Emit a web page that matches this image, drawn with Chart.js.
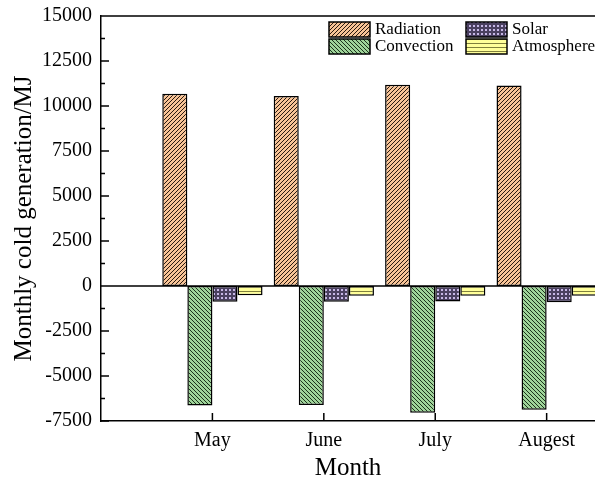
<!DOCTYPE html>
<html>
<head>
<meta charset="utf-8">
<script src="https://cdn.jsdelivr.net/npm/chart.js@4/dist/chart.umd.min.js"></script>
<style>
  html, body { margin: 0; padding: 0; background: #fff; }
  #wrap { width: 595px; height: 479px; }
</style>
</head>
<body>
<div id="wrap"><canvas id="cold" width="595" height="479"></canvas></div>
<script>
// monthly cold generation per component, MJ
const months = ['May', 'June', 'July', 'Augest'];
const radiation = [10680, 10560, 11180, 11140];
const convection = [-6640, -6610, -7040, -6880];
const solar = [-880, -880, -860, -900];
const atmosphere = [-520, -540, -540, -540];
const yTicks = [-7500, -5000, -2500, 0, 2500, 5000, 7500, 10000, 12500, 15000];

const SERIF = "'Liberation Serif', 'Times New Roman', serif";

// hatch tiles
function tile(w, h, draw) {
  const c = document.createElement('canvas');
  c.width = w; c.height = h;
  draw(c.getContext('2d'), w, h);
  return c.getContext('2d').createPattern(c, 'repeat');
}
const hatchRadiation = tile(4, 4, (g, s) => {
  g.fillStyle = '#f8c497'; g.fillRect(0, 0, s, s);
  g.strokeStyle = '#2a1a10'; g.lineWidth = 1;
  g.beginPath();
  g.moveTo(0, s); g.lineTo(s, 0);
  g.moveTo(-1, 1); g.lineTo(1, -1);
  g.moveTo(s - 1, s + 1); g.lineTo(s + 1, s - 1);
  g.stroke();
});
const hatchConvection = tile(4, 4, (g, s) => {
  g.fillStyle = '#9fd49a'; g.fillRect(0, 0, s, s);
  g.strokeStyle = '#1c331c'; g.lineWidth = 1;
  g.beginPath();
  g.moveTo(0, 0); g.lineTo(s, s);
  g.moveTo(-1, s - 1); g.lineTo(1, s + 1);
  g.moveTo(s - 1, -1); g.lineTo(s + 1, 1);
  g.stroke();
});
const hatchSolar = tile(4, 4, (g, s) => {
  g.fillStyle = '#4a4060'; g.fillRect(0, 0, s, s);
  g.fillStyle = '#c6b7e6';
  g.fillRect(1, 1, 2, 2);
});
const hatchAtmosphere = tile(1, 4, (g) => {
  g.fillStyle = '#ffff99'; g.fillRect(0, 0, 1, 4);
  g.fillStyle = '#7f7f3c'; g.fillRect(0, 3, 1, 1);
});

function series(values) {
  return values.map((v, i) => ({ x: i + 1, y: v }));
}

// axis frame, inward ticks and zero line
const frame = {
  id: 'frame',
  afterDatasetsDraw(chart) {
    const { ctx, chartArea: a, scales: { x, y } } = chart;
    ctx.save();
    ctx.strokeStyle = '#000';
    ctx.lineWidth = 1.5;
    ctx.beginPath();
    ctx.moveTo(a.left, a.top); ctx.lineTo(a.right, a.top);
    const z = y.getPixelForValue(0);
    ctx.moveTo(a.left, z); ctx.lineTo(a.right, z);
    for (let i = 0; i < yTicks.length; i++) {
      const py = y.getPixelForValue(yTicks[i]);
      ctx.moveTo(a.left, py); ctx.lineTo(a.left + 8, py);
      if (i < yTicks.length - 1) {
        const pm = y.getPixelForValue((yTicks[i] + yTicks[i + 1]) / 2);
        ctx.moveTo(a.left, pm); ctx.lineTo(a.left + 4, pm);
      }
    }
    months.forEach((m, i) => {
      const px = x.getPixelForValue(i + 1);
      ctx.moveTo(px, a.bottom); ctx.lineTo(px, a.bottom - 8);
    });
    ctx.stroke();
    ctx.restore();
  }
};

// two-column legend inside the plot
const boxLegend = {
  id: 'boxLegend',
  afterDraw(chart) {
    const ctx = chart.ctx;
    const cols = [329, 466];
    const rows = [22, 39];
    ctx.save();
    ctx.font = '17px ' + SERIF;
    ctx.textBaseline = 'middle';
    ctx.textAlign = 'left';
    chart.data.datasets.forEach((ds, i) => {
      const bx = cols[Math.floor(i / 2)];
      const by = rows[i % 2];
      ctx.fillStyle = ds.backgroundColor;
      ctx.fillRect(bx, by, 41, 15);
      ctx.strokeStyle = '#000';
      ctx.lineWidth = 1.5;
      ctx.strokeRect(bx, by, 41, 15);
      ctx.fillStyle = '#000';
      ctx.fillText(ds.label, bx + 46, by + 8);
    });
    ctx.restore();
  }
};

const barStyle = { borderColor: '#000', borderWidth: 1.5, borderSkipped: false };

new Chart(document.getElementById('cold'), {
  type: 'bar',
  data: {
    datasets: [
      { label: 'Radiation', data: series(radiation), backgroundColor: hatchRadiation, ...barStyle },
      { label: 'Convection', data: series(convection), backgroundColor: hatchConvection, ...barStyle },
      { label: 'Solar', data: series(solar), backgroundColor: hatchSolar, ...barStyle },
      { label: 'Atmosphere', data: series(atmosphere), backgroundColor: hatchAtmosphere, ...barStyle }
    ]
  },
  options: {
    responsive: false,
    animation: false,
    datasets: { bar: { categoryPercentage: 0.9, barPercentage: 1 } },
    layout: { padding: { top: 16, right: 0, left: 0, bottom: 0 } },
    plugins: { legend: { display: false }, tooltip: { enabled: false } },
    scales: {
      x: {
        type: 'linear',
        offset: false,
        min: 0,
        max: 4.434,
        afterBuildTicks: s => { s.ticks = months.map((m, i) => ({ value: i + 1 })); },
        afterFit: s => { s.height = 58; },
        grid: { display: false, drawTicks: false, offset: false },
        border: { display: true, color: '#000', width: 1.5 },
        ticks: {
          padding: 8,
          color: '#000',
          font: { family: SERIF, size: 20 },
          maxRotation: 0,
          autoSkip: false,
          callback: v => months[v - 1]
        },
        title: {
          display: true,
          text: 'Month',
          color: '#000',
          font: { family: SERIF, size: 25, lineHeight: 0.85 },
          padding: { top: 0, bottom: 0 }
        }
      },
      y: {
        min: -7500,
        max: 15000,
        afterBuildTicks: s => { s.ticks = yTicks.map(v => ({ value: v })); },
        afterFit: s => { s.width = 101; s.paddingTop = 0; s.paddingBottom = 0; },
        grid: { display: false, drawTicks: false },
        border: { display: true, color: '#000', width: 1.5 },
        ticks: {
          padding: 9,
          color: '#000',
          font: { family: SERIF, size: 20, lineHeight: 0.8 },
          callback: v => String(v)
        },
        title: {
          display: true,
          text: 'Monthly cold generation/MJ',
          color: '#000',
          font: { family: SERIF, size: 25, lineHeight: 1 },
          padding: { top: 12, bottom: 0 }
        }
      }
    }
  },
  plugins: [frame, boxLegend]
});
</script>
</body>
</html>
